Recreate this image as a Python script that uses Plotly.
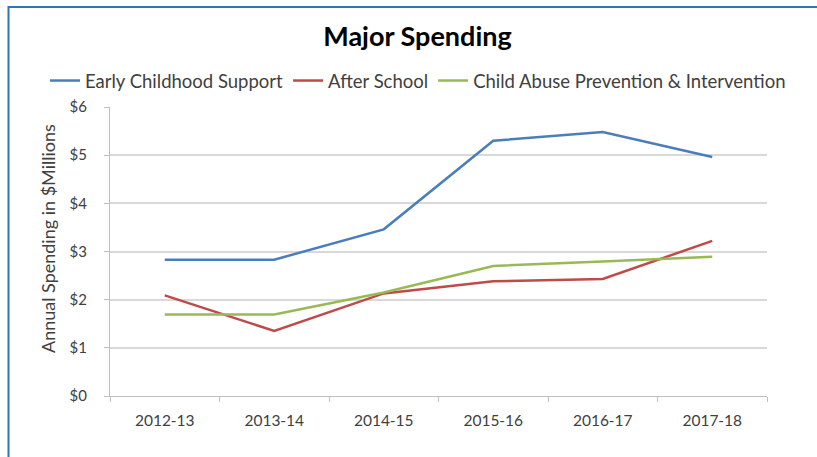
import plotly.graph_objects as go

# Fiscal years and spending per program ($ millions)
years = ["2012-13", "2013-14", "2014-15", "2015-16", "2016-17", "2017-18"]
early_childhood = [2.83, 2.83, 3.46, 5.30, 5.48, 4.96]
after_school = [2.09, 1.35, 2.13, 2.38, 2.43, 3.22]
child_abuse = [1.69, 1.69, 2.15, 2.70, 2.79, 2.89]

series = [
    ("Early Childhood Support", early_childhood, "#4a7ebb"),
    ("After School", after_school, "#be4b48"),
    ("Child Abuse Prevention & Intervention", child_abuse, "#98b954"),
]

W, H = 817, 457
L, R, T, B = 110, 50, 107, 61
pw, ph = W - L - R, H - T - B

def px_x(p):
    return (p - L) / pw

def px_y(p):
    return (H - B - p) / ph

FONT = "Lato, 'Open Sans', sans-serif"

fig = go.Figure()
for name, vals, color in series:
    fig.add_trace(go.Scatter(
        x=years, y=vals, name=name, mode="lines",
        line=dict(color=color, width=2.5),
    ))

fig.update_layout(
    width=W, height=H,
    margin=dict(l=L, r=R, t=T, b=B),
    paper_bgcolor="white", plot_bgcolor="white",
    font=dict(family=FONT, color="#404040"),
    title=dict(
        text="<b>Major Spending</b>",
        font=dict(size=27, color="#000000", family=FONT),
        x=px_x(417.5), xref="paper", xanchor="center",
        y=1 - 37 / H, yref="container", yanchor="middle",
    ),
    legend=dict(
        orientation="h", x=px_x(45), xanchor="left",
        y=px_y(81), yanchor="middle",
        font=dict(size=18.5, color="#404040"),
        itemwidth=30, tracegroupgap=0,
        bgcolor="rgba(0,0,0,0)",
    ),
    xaxis=dict(
        type="category", range=[-0.5, 5.5],
        tickson="boundaries", ticks="outside", ticklen=5, tickcolor="#bfbfbf",
        showline=True, linecolor="#bfbfbf", linewidth=1,
        showgrid=False, tickfont=dict(size=15.5, color="#404040"),
        ticklabelstandoff=10,
    ),
    yaxis=dict(
        range=[0, 6], dtick=1, tickprefix="$",
        ticks="outside", ticklen=5, tickcolor="#bfbfbf",
        showline=True, linecolor="#bfbfbf", linewidth=1,
        showgrid=True, gridcolor="#d9d9d9", gridwidth=1.5,
        zeroline=False,
        tickfont=dict(size=15, color="#404040"),
        ticklabelstandoff=14,
    ),
    showlegend=True,
)

# Vertical axis title, placed a little above the plot's midline
fig.add_annotation(
    text="Annual Spending in $Millions", textangle=-90,
    xref="paper", yref="paper", x=px_x(48), y=px_y(239),
    xanchor="center", yanchor="middle", showarrow=False,
    font=dict(size=18, color="#404040", family=FONT),
)

# Blue frame along the top and left edges of the figure
border = "#2e75b6"
fig.add_shape(type="line", xref="paper", yref="paper",
              x0=px_x(8), x1=px_x(W + 2), y0=px_y(7), y1=px_y(7),
              line=dict(color=border, width=2))
fig.add_shape(type="line", xref="paper", yref="paper",
              x0=px_x(8.5), x1=px_x(8.5), y0=px_y(6), y1=px_y(H + 2),
              line=dict(color=border, width=2))

fig.write_html("out.html")
